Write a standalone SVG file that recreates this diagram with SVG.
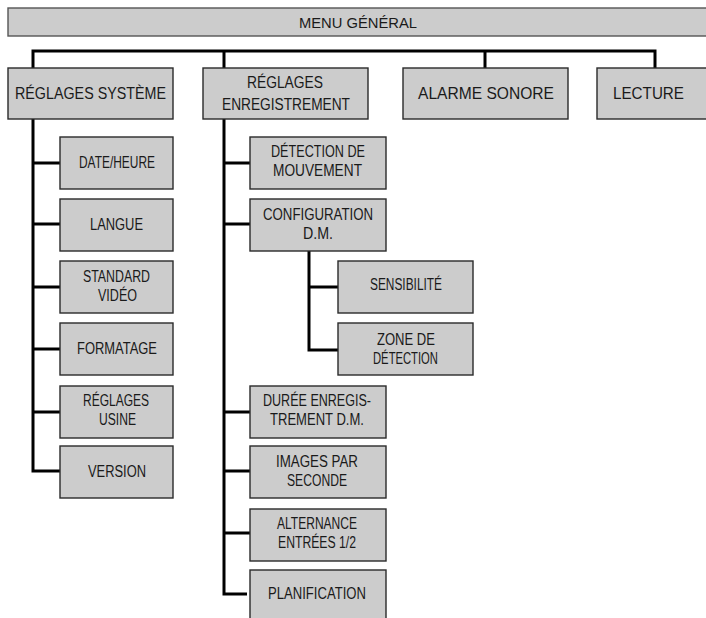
<svg xmlns="http://www.w3.org/2000/svg" width="706" height="618" viewBox="0 0 706 618">
<style>
.box{fill:#cccccc;stroke:#2a2a2a;stroke-width:1.4}
.bar{fill:#cccccc;stroke:#555555;stroke-width:1.4}
.conn{fill:none;stroke:#000000;stroke-width:3;stroke-linejoin:miter;stroke-linecap:butt}
text{font-family:"Liberation Sans",Arial,sans-serif;fill:#1a1a1a;text-anchor:middle}
.t0{font-size:14px}
.t1{font-size:17px}
.t2{font-size:16px}
</style>
<rect width="706" height="618" fill="#ffffff"/>
<g id="connectors">
<path class="conn" d="M33,68 V51 H655 V68 M224,51 V68 M485,51 V68"/>
<path class="conn" d="M33,119 V471 H60 M33,163 H60 M33,224 H60 M33,287 H60 M33,349 H60 M33,412 H60"/>
<path class="conn" d="M224,119 V594 H247 M224,163 H250 M224,224 H250 M224,412 H250 M224,471 H250 M224,533 H250"/>
<path class="conn" d="M309,251 V350 H338 M309,287 H338"/>
</g>
<g id="menu-general"><rect class="bar" x="8" y="8" width="702" height="28"/><text class="t0" x="358" y="28" textLength="118" lengthAdjust="spacingAndGlyphs">MENU GÉNÉRAL</text></g>
<g id="reglages-systeme"><rect class="box" x="8" y="68" width="165" height="51"/><text class="t1" x="90.5" y="98.5" textLength="151" lengthAdjust="spacingAndGlyphs">RÉGLAGES SYSTÈME</text></g>
<g id="reglages-enregistrement"><rect class="box" x="203" y="68" width="165" height="51"/><text class="t1" x="285" y="87.5" textLength="76" lengthAdjust="spacingAndGlyphs">RÉGLAGES</text><text class="t1" x="286" y="110" textLength="128" lengthAdjust="spacingAndGlyphs">ENREGISTREMENT</text></g>
<g id="alarme-sonore"><rect class="box" x="403" y="68" width="165" height="51"/><text class="t1" x="486" y="98.5" textLength="136" lengthAdjust="spacingAndGlyphs">ALARME SONORE</text></g>
<g id="lecture"><rect class="box" x="597" y="68" width="112" height="51"/><text class="t1" x="648.5" y="98.5" textLength="71" lengthAdjust="spacingAndGlyphs">LECTURE</text></g>
<g id="date-heure"><rect class="box" x="60" y="137" width="113" height="52"/><text class="t2" x="117" y="167.5" textLength="76" lengthAdjust="spacingAndGlyphs">DATE/HEURE</text></g>
<g id="langue"><rect class="box" x="60" y="199" width="113" height="52"/><text class="t2" x="116.5" y="229.5" textLength="53" lengthAdjust="spacingAndGlyphs">LANGUE</text></g>
<g id="standard-video"><rect class="box" x="60" y="261" width="113" height="52"/><text class="t2" x="116.5" y="282" textLength="67" lengthAdjust="spacingAndGlyphs">STANDARD</text><text class="t2" x="117.5" y="301" textLength="39" lengthAdjust="spacingAndGlyphs">VIDÉO</text></g>
<g id="formatage"><rect class="box" x="60" y="323" width="113" height="52"/><text class="t2" x="117" y="353.5" textLength="80" lengthAdjust="spacingAndGlyphs">FORMATAGE</text></g>
<g id="reglages-usine"><rect class="box" x="60" y="386" width="113" height="52"/><text class="t2" x="116" y="406" textLength="66" lengthAdjust="spacingAndGlyphs">RÉGLAGES</text><text class="t2" x="117.5" y="425" textLength="37" lengthAdjust="spacingAndGlyphs">USINE</text></g>
<g id="version"><rect class="box" x="60" y="446" width="113" height="52"/><text class="t2" x="117" y="477" textLength="58" lengthAdjust="spacingAndGlyphs">VERSION</text></g>
<g id="detection-mouvement"><rect class="box" x="250" y="137" width="136" height="52"/><text class="t2" x="318" y="157" textLength="94" lengthAdjust="spacingAndGlyphs">DÉTECTION DE</text><text class="t2" x="317.5" y="176" textLength="89" lengthAdjust="spacingAndGlyphs">MOUVEMENT</text></g>
<g id="configuration-dm"><rect class="box" x="250" y="199" width="136" height="52"/><text class="t2" x="318" y="220" textLength="110" lengthAdjust="spacingAndGlyphs">CONFIGURATION</text><text class="t2" x="318" y="239" textLength="30" lengthAdjust="spacingAndGlyphs">D.M.</text></g>
<g id="sensibilite"><rect class="box" x="338" y="261" width="135" height="52"/><text class="t2" x="406" y="289.5" textLength="72" lengthAdjust="spacingAndGlyphs">SENSIBILITÉ</text></g>
<g id="zone-detection"><rect class="box" x="338" y="323" width="135" height="52"/><text class="t2" x="406" y="345" textLength="58" lengthAdjust="spacingAndGlyphs">ZONE DE</text><text class="t2" x="405.5" y="364" textLength="65" lengthAdjust="spacingAndGlyphs">DÉTECTION</text></g>
<g id="duree-enregistrement"><rect class="box" x="250" y="386" width="136" height="52"/><text class="t2" x="317" y="406" textLength="108" lengthAdjust="spacingAndGlyphs">DURÉE ENREGIS-</text><text class="t2" x="317" y="425" textLength="94" lengthAdjust="spacingAndGlyphs">TREMENT D.M.</text></g>
<g id="images-par-seconde"><rect class="box" x="250" y="446" width="136" height="52"/><text class="t2" x="317" y="467" textLength="82" lengthAdjust="spacingAndGlyphs">IMAGES PAR</text><text class="t2" x="317" y="486" textLength="60" lengthAdjust="spacingAndGlyphs">SECONDE</text></g>
<g id="alternance-entrees"><rect class="box" x="250" y="509" width="136" height="52"/><text class="t2" x="317" y="529" textLength="80" lengthAdjust="spacingAndGlyphs">ALTERNANCE</text><text class="t2" x="317" y="548" textLength="78" lengthAdjust="spacingAndGlyphs">ENTRÉES 1/2</text></g>
<g id="planification"><rect class="box" x="250" y="570" width="136" height="52"/><text class="t2" x="317" y="598.5" textLength="98" lengthAdjust="spacingAndGlyphs">PLANIFICATION</text></g>
</svg>
